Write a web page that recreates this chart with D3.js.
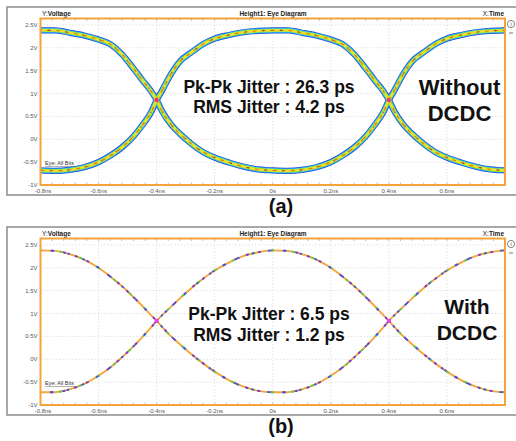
<!DOCTYPE html>
<html>
<head>
<meta charset="utf-8">
<script src="https://cdn.jsdelivr.net/npm/d3@7"></script>
<style>
  body { margin: 0; background: #fff; }
  svg { display: block; font-family: "Liberation Sans", Arial, sans-serif; }
</style>
</head>
<body>
<svg id="chart" width="516" height="441"></svg>
<script>
// sample times across one eye opening (ns, relative to eye centre)
const arcTime = [-0.4, -0.38, -0.35, -0.32, -0.28, -0.24, -0.2, -0.15, -0.1, -0.05, 0,
                 0.05, 0.1, 0.15, 0.2, 0.24, 0.28, 0.32, 0.35, 0.38, 0.4];

// (a) without DCDC (V)
const topA    = [0.86, 1.08, 1.43, 1.70, 1.90, 2.08, 2.20, 2.28, 2.34, 2.37, 2.38,
                 2.38, 2.33, 2.27, 2.18, 2.08, 1.86, 1.55, 1.30, 1.06, 0.86];
const bottomA = [0.86, 0.60, 0.32, 0.12, -0.10, -0.28, -0.40, -0.51, -0.60, -0.66, -0.68,
                 -0.69, -0.67, -0.61, -0.50, -0.36, -0.18, 0.06, 0.30, 0.58, 0.86];

// (b) with DCDC
const topB    = [0.84, 0.97, 1.15, 1.33, 1.56, 1.76, 1.94, 2.12, 2.26, 2.34, 2.38,
                 2.37, 2.30, 2.18, 2.00, 1.81, 1.60, 1.36, 1.17, 0.97, 0.84];
const bottomB = [0.84, 0.70, 0.50, 0.33, 0.11, -0.09, -0.27, -0.46, -0.60, -0.69, -0.72,
                 -0.72, -0.66, -0.54, -0.36, -0.18, 0.04, 0.28, 0.48, 0.69, 0.84];

const unitInterval = 0.8;
const eyeCentres = [-unitInterval, 0, unitInterval];
const crossings = [-0.4, 0.4];

const xTicks = [-0.8, -0.6, -0.4, -0.2, 0, 0.2, 0.4, 0.6];
const xTickLabels = ["-0.8ns", "-0.6ns", "-0.4ns", "-0.2ns", "0s", "0.2ns", "0.4ns", "0.6ns"];
const yTicks = [2.5, 2, 1.5, 1, 0.5, 0, -0.5, -1];
const yTickLabels = ["2.5V", "2V", "1.5V", "1V", "0.5V", "0V", "-0.5V", "-1V"];

const jitterTextA = ["Pk-Pk Jitter : 26.3 ps", "RMS Jitter : 4.2 ps"];
const jitterTextB = ["Pk-Pk Jitter : 6.5 ps", "RMS Jitter : 1.2 ps"];
const caseTextA = ["Without", "DCDC"];
const caseTextB = ["With", "DCDC"];

var svg = d3.select("#chart");

var plot = { left: 40.5, right: 505, top: 18.5, bottom: 185 };

var x = d3.scaleLinear().domain([-0.8, 0.8]).range([plot.left, plot.right]);
var y = d3.scaleLinear().domain([-1, 2.64]).range([plot.bottom, plot.top]);

var line = d3.line()
    .x(d => x(d[0]))
    .y(d => y(d[1]))
    .curve(d3.curveMonotoneX);

function traces(top, bottom) {
    var out = [];
    eyeCentres.forEach(c => {
        out.push(arcTime.map((t, i) => [t + c, top[i]]));
        out.push(arcTime.map((t, i) => [t + c, bottom[i]]));
    });
    return out;
}

function drawPanel(offsetY, cfg) {
    var g = svg.append("g").attr("transform", `translate(0,${offsetY})`);

    // grey outer frame
    g.append("path")
        .attr("d", "M520,7 H7 V195 H520")
        .attr("fill", "none")
        .attr("stroke", "#8c8c8c")
        .attr("stroke-width", 1.5);

    // title strip
    var title = g.append("g").style("font-size", "6.5px").attr("fill", "#222");
    var yv = title.append("text").attr("x", 42).attr("y", 16);
    yv.append("tspan").text("Y:");
    yv.append("tspan").attr("font-weight", "bold").text("Voltage");
    title.append("text").attr("x", 273).attr("y", 16)
        .attr("text-anchor", "middle").attr("font-weight", "bold")
        .text("Height1: Eye Diagram");
    var xt = title.append("text").attr("x", 504).attr("y", 16).attr("text-anchor", "end");
    xt.append("tspan").text("X:");
    xt.append("tspan").attr("font-weight", "bold").text("Time");

    // little side icons
    g.append("circle").attr("cx", 511).attr("cy", 24).attr("r", 3.6)
        .attr("fill", "none").attr("stroke", "#666").attr("stroke-width", 0.8);
    g.append("text").attr("x", 511).attr("y", 26.3).attr("text-anchor", "middle")
        .style("font-size", "5.5px").attr("fill", "#444").text("i");
    g.append("line").attr("x1", 509).attr("x2", 513).attr("y1", 33).attr("y2", 33)
        .attr("stroke", "#666").attr("stroke-width", 0.9);

    // grid
    g.append("g").selectAll("line.h")
        .data(yTicks.filter(v => v > -1))
        .join("line")
        .attr("x1", plot.left).attr("x2", plot.right)
        .attr("y1", d => y(d)).attr("y2", d => y(d))
        .attr("stroke", "#cfcfcf").attr("stroke-width", 0.7)
        .attr("stroke-dasharray", "1.2,2");
    g.append("g").selectAll("line.v")
        .data(xTicks.filter(v => v > -0.8))
        .join("line")
        .attr("x1", d => x(d)).attr("x2", d => x(d))
        .attr("y1", plot.top).attr("y2", plot.bottom)
        .attr("stroke", "#cfcfcf").attr("stroke-width", 0.7)
        .attr("stroke-dasharray", "1.2,2");

    // minor ticks on top and bottom edges
    var minor = d3.range(-0.8, 0.8001, 0.04);
    g.append("g").selectAll("line")
        .data(minor)
        .join("line")
        .attr("x1", d => x(d)).attr("x2", d => x(d))
        .attr("y1", plot.bottom).attr("y2", plot.bottom - 2.5)
        .attr("stroke", "#9a9a9a").attr("stroke-width", 0.6);
    g.append("g").selectAll("line")
        .data(minor)
        .join("line")
        .attr("x1", d => x(d)).attr("x2", d => x(d))
        .attr("y1", plot.top).attr("y2", plot.top + 2.5)
        .attr("stroke", "#9a9a9a").attr("stroke-width", 0.6);

    // tick labels
    g.append("g").selectAll("text")
        .data(yTicks)
        .join("text")
        .attr("x", 37.5).attr("y", d => y(d) + 2)
        .attr("text-anchor", "end")
        .style("font-size", "6px").attr("fill", "#555")
        .text((d, i) => yTickLabels[i]);
    g.append("g").selectAll("text")
        .data(xTicks)
        .join("text")
        .attr("x", (d, i) => x(d) + (i == 0 ? 2.5 : 0)).attr("y", 193)
        .attr("text-anchor", "middle")
        .style("font-size", "6px").attr("fill", "#555")
        .text((d, i) => xTickLabels[i]);

    // traces
    var clipId = "clip" + cfg.name;
    g.append("clipPath").attr("id", clipId)
        .append("rect")
        .attr("x", plot.left).attr("y", plot.top)
        .attr("width", plot.right - plot.left).attr("height", plot.bottom - plot.top);

    var tg = g.append("g").attr("clip-path", `url(#${clipId})`);
    var data = traces(cfg.top, cfg.bottom);
    cfg.layers.forEach(l => {
        tg.append("g").selectAll("path")
            .data(data)
            .join("path")
            .attr("d", line)
            .attr("fill", "none")
            .attr("stroke", l.color)
            .attr("stroke-width", l.width)
            .attr("stroke-dasharray", l.dash || null)
            .attr("stroke-dashoffset", l.offset || 0)
            .attr("stroke-linecap", l.dash ? "round" : "butt")
            .attr("opacity", l.opacity || 1);
    });
    tg.selectAll("circle.cross")
        .data(crossings)
        .join("circle")
        .attr("cx", d => x(d)).attr("cy", y(cfg.top[0]))
        .attr("r", 2)
        .attr("fill", cfg.crossColor);

    // "Eye: All Bits" marker
    g.append("text").attr("x", 45).attr("y", 165)
        .style("font-size", "5.5px").attr("fill", "#333")
        .text("Eye: All Bits");
    g.append("line").attr("x1", 45).attr("x2", 76).attr("y1", 166.5).attr("y2", 166.5)
        .attr("stroke", "#666").attr("stroke-width", 0.5);

    // frame of the plot area
    g.append("rect")
        .attr("x", plot.left).attr("y", plot.top)
        .attr("width", plot.right - plot.left).attr("height", plot.bottom - plot.top)
        .attr("fill", "none").attr("stroke", "#f5a33a").attr("stroke-width", 2);

    // annotations
    g.append("g").selectAll("text")
        .data(cfg.jitter)
        .join("text")
        .attr("x", 269).attr("y", (d, i) => cfg.jitterY[i])
        .attr("text-anchor", "middle")
        .attr("font-weight", "bold").style("font-size", "17.5px").attr("fill", "#111")
        .text(d => d);
    g.append("g").selectAll("text")
        .data(cfg.label)
        .join("text")
        .attr("x", cfg.labelX).attr("y", (d, i) => cfg.labelY[i])
        .attr("text-anchor", "middle")
        .attr("font-weight", "bold").style("font-size", cfg.labelSize).attr("fill", "#111")
        .text(d => d);

    g.append("text")
        .attr("x", 281).attr("y", 213)
        .attr("text-anchor", "middle")
        .attr("font-weight", "bold").style("font-size", "20px").attr("fill", "#111")
        .text(cfg.caption);
}

drawPanel(0, {
    name: "a",
    top: topA,
    bottom: bottomA,
    layers: [
        { color: "#2346e0", width: 6.2 },
        { color: "#20bcef", width: 4.8 },
        { color: "#a6de3a", width: 3.4 },
        { color: "#f0e622", width: 1.8 },
        { color: "#e6501e", width: 1.1, dash: "3,6", opacity: 0.8 },
        { color: "#3a2cc0", width: 1.4, dash: "0.5,17", offset: 4, opacity: 0.6 }
    ],
    crossColor: "#ff2a6a",
    jitter: jitterTextA,
    jitterY: [92.8, 112.5],
    label: caseTextA,
    labelX: 459.5,
    labelY: [95, 121],
    labelSize: "22px",
    caption: "(a)"
});

drawPanel(220, {
    name: "b",
    top: topB,
    bottom: bottomB,
    layers: [
        { color: "#f4a63a", width: 1.9 },
        { color: "#7a3ad0", width: 1.9, dash: "1.5,11" },
        { color: "#55cf4a", width: 1.9, dash: "1.5,19", offset: 5 },
        { color: "#3a5ae6", width: 1.9, dash: "1,15", offset: 9 }
    ],
    crossColor: "#ff3cf0",
    jitter: jitterTextB,
    jitterY: [99.5, 121],
    label: caseTextB,
    labelX: 467,
    labelY: [94, 120],
    labelSize: "21px",
    caption: "(b)"
});
</script>
</body>
</html>
